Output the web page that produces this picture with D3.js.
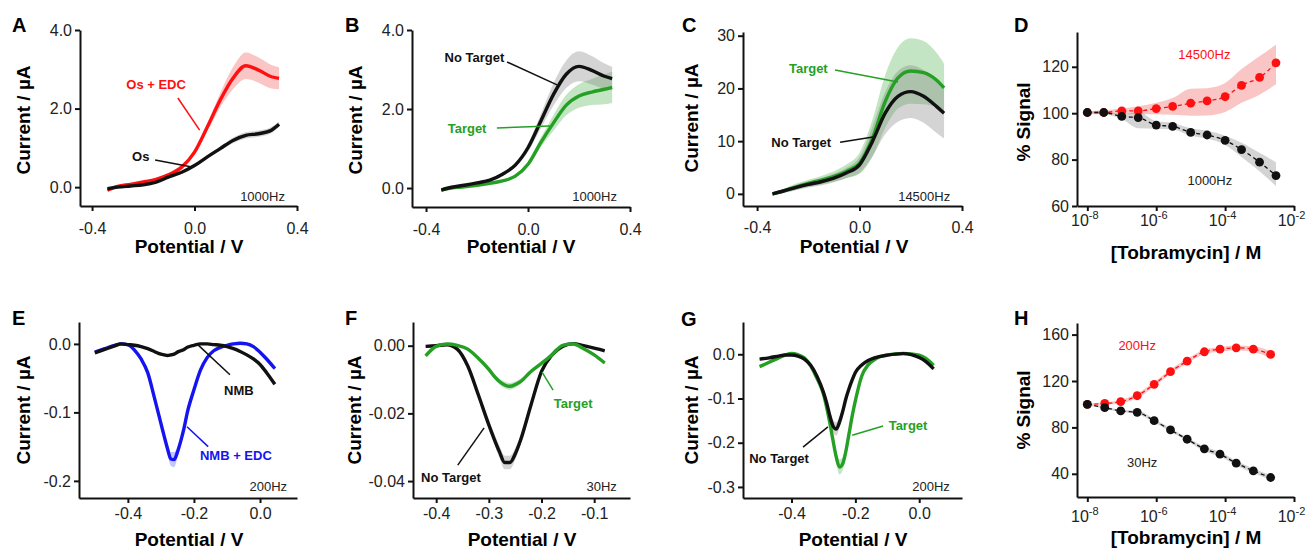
<!DOCTYPE html>
<html>
<head>
<meta charset="utf-8">
<script src="https://cdn.jsdelivr.net/npm/d3@7"></script>
<style>
  body { margin: 0; background: #fff; }
  text { font-family: "Liberation Sans", Arial, sans-serif; }
</style>
</head>
<body>
<svg id="fig" width="1306" height="550"></svg>
<script>
// ---- Panel A: Os vs Os + EDC, 1000 Hz ----
const scanV = [-0.34, -0.3, -0.25, -0.2, -0.15, -0.1, -0.05, 0.0, 0.05, 0.1, 0.15, 0.2, 0.25, 0.3, 0.33];
const aOsEdc   = [-0.08, 0.02, 0.07, 0.13, 0.2, 0.32, 0.51, 0.89, 1.53, 2.21, 2.77, 3.09, 2.98, 2.81, 2.77];
const aOsEdcSd = [0.02, 0.02, 0.02, 0.02, 0.03, 0.03, 0.04, 0.06, 0.1, 0.18, 0.28, 0.34, 0.32, 0.3, 0.28];
const aOs      = [-0.04, 0.0, 0.03, 0.06, 0.13, 0.26, 0.38, 0.55, 0.77, 0.98, 1.19, 1.32, 1.36, 1.45, 1.6];
const aOsSd    = [0.02, 0.02, 0.02, 0.02, 0.02, 0.02, 0.03, 0.03, 0.04, 0.05, 0.07, 0.08, 0.08, 0.08, 0.07];

// ---- Panel B: 1000 Hz, no target / target ----
const bNoTarget   = [-0.05, 0.02, 0.07, 0.13, 0.2, 0.35, 0.58, 1.02, 1.69, 2.37, 2.88, 3.08, 2.98, 2.83, 2.77];
const bNoTargetSd = [0.02, 0.02, 0.02, 0.02, 0.03, 0.04, 0.06, 0.1, 0.18, 0.28, 0.35, 0.38, 0.36, 0.32, 0.3];
const bTarget     = [-0.05, 0.0, 0.03, 0.07, 0.12, 0.18, 0.3, 0.6, 1.15, 1.65, 2.1, 2.33, 2.43, 2.5, 2.55];
const bTargetSd   = [0.02, 0.02, 0.02, 0.02, 0.02, 0.03, 0.04, 0.06, 0.12, 0.2, 0.26, 0.3, 0.33, 0.38, 0.4];

// ---- Panel C: 14500 Hz ----
const cNoTarget   = [0, 0.5, 1.2, 1.8, 2.3, 3.0, 4.0, 5.5, 9.9, 15.3, 18.5, 19.4, 18.5, 16.6, 15.3];
const cNoTargetSd = [0.3, 0.4, 0.5, 0.6, 0.7, 0.8, 1.0, 1.5, 2.8, 4.0, 4.8, 5.0, 5.0, 5.0, 4.8];
const cTarget     = [0, 0.5, 1.3, 2.0, 2.6, 3.3, 4.3, 5.8, 10.5, 17.5, 22, 23.3, 23, 21.6, 20.1];
const cTargetSd   = [0.3, 0.4, 0.6, 0.7, 0.8, 1.0, 1.3, 2.0, 3.5, 5.0, 5.8, 6.2, 6.0, 5.2, 4.6];

// ---- Panel D: titration, Os reporter ----
const dConc    = [1e-8, 3e-8, 1e-7, 3e-7, 1e-6, 3e-6, 1e-5, 3e-5, 1e-4, 3e-4, 1e-3, 3e-3];
const d14500   = [100.3, 100.3, 101, 101, 102, 102.9, 104.3, 105.3, 107.1, 112, 115.4, 121.7];
const d14500Hi = [100.8, 101.3, 102, 103, 104.5, 106.5, 110.5, 110.8, 113, 119, 124.5, 129.5];
const d14500Lo = [99.8, 99.5, 99.5, 99.5, 99.5, 99.3, 98.9, 99, 100.5, 104.5, 108, 112.5];
const d1000    = [100.3, 100.3, 98.6, 98.1, 94.9, 94.3, 91.7, 90.6, 88.3, 84.3, 78.9, 73.1];
const d1000Hi  = [100.6, 100.8, 99.5, 100.5, 96.5, 95.8, 93.5, 92.4, 90.3, 87.3, 82.9, 78.9];
const d1000Lo  = [100, 99.5, 97.5, 93.5, 93.3, 93, 90.3, 89.1, 86.3, 81.1, 75, 68.6];

// ---- Panel E: NMB vs NMB + EDC, 200 Hz ----
const eV       = [-0.5, -0.47, -0.44, -0.42, -0.4, -0.38, -0.36, -0.34, -0.32, -0.3, -0.29, -0.28, -0.27, -0.26, -0.25, -0.24, -0.23, -0.22, -0.2, -0.18, -0.16, -0.14, -0.12, -0.1, -0.08, -0.06, -0.04, -0.02, 0.0, 0.02, 0.045];
const eNmbEdc  = [-0.012, -0.007, -0.002, 0.0, -0.001, -0.009, -0.022, -0.042, -0.078, -0.116, -0.135, -0.153, -0.168, -0.169, -0.158, -0.142, -0.123, -0.1, -0.067, -0.038, -0.02, -0.01, -0.005, -0.002, 0.0, 0.001, 0.0, -0.004, -0.012, -0.022, -0.036];
const eNmbEdcSd = [0.002, 0.002, 0.002, 0.002, 0.002, 0.002, 0.002, 0.002, 0.003, 0.004, 0.005, 0.007, 0.01, 0.011, 0.008, 0.006, 0.005, 0.004, 0.004, 0.003, 0.002, 0.002, 0.002, 0.002, 0.002, 0.002, 0.002, 0.002, 0.002, 0.002, 0.002];
const eNmb     = [-0.013, -0.008, -0.003, 0.0, -0.001, -0.002, -0.004, -0.007, -0.011, -0.015, -0.016, -0.017, -0.016, -0.015, -0.012, -0.01, -0.008, -0.005, -0.002, 0.0, 0.0, -0.001, -0.002, -0.004, -0.007, -0.011, -0.016, -0.022, -0.03, -0.042, -0.059];
const eNmbSd   = [0.0015, 0.0015, 0.0015, 0.0015, 0.0015, 0.0015, 0.0015, 0.0015, 0.0015, 0.002, 0.002, 0.002, 0.002, 0.002, 0.002, 0.0015, 0.0015, 0.0015, 0.0015, 0.0015, 0.0015, 0.0015, 0.0015, 0.0015, 0.0015, 0.0015, 0.0015, 0.0015, 0.0015, 0.0015, 0.0015];

// ---- Panel F: 30 Hz ----
const fV          = [-0.42, -0.4, -0.38, -0.36, -0.34, -0.32, -0.3, -0.29, -0.28, -0.27, -0.26, -0.25, -0.24, -0.22, -0.2, -0.18, -0.16, -0.14, -0.12, -0.1, -0.08];
const fNoTarget   = [-0.0002, 0.0, 0.0003, -0.001, -0.006, -0.0145, -0.0234, -0.0275, -0.0313, -0.0345, -0.0345, -0.032, -0.028, -0.0175, -0.0076, -0.0027, -0.0002, 0.0006, 0.0, -0.0007, -0.0015];
const fNoTargetSd = [0.0003, 0.0003, 0.0003, 0.0004, 0.0006, 0.0009, 0.0012, 0.0015, 0.0018, 0.002, 0.002, 0.0018, 0.0015, 0.001, 0.0006, 0.0004, 0.0003, 0.0003, 0.0003, 0.0003, 0.0003];
const fTarget     = [-0.003, -0.0002, 0.0005, 0.0001, -0.001, -0.0037, -0.007, -0.009, -0.0106, -0.0116, -0.012, -0.0115, -0.0106, -0.0076, -0.0052, -0.0027, 0.0001, 0.0005, -0.0009, -0.0027, -0.0051];
const fTargetSd   = [0.0004, 0.0004, 0.0004, 0.0004, 0.0004, 0.0006, 0.0007, 0.0008, 0.0009, 0.001, 0.001, 0.0009, 0.0008, 0.0006, 0.0005, 0.0004, 0.0004, 0.0004, 0.0004, 0.0004, 0.0004];

// ---- Panel G: 200 Hz ----
const gV          = [-0.5, -0.47, -0.44, -0.42, -0.4, -0.38, -0.36, -0.34, -0.32, -0.3, -0.29, -0.28, -0.27, -0.26, -0.25, -0.24, -0.23, -0.22, -0.21, -0.2, -0.18, -0.16, -0.14, -0.1, -0.05, 0.0, 0.02, 0.045];
const gNoTarget   = [-0.011, -0.008, -0.004, -0.0015, -0.0015, -0.004, -0.011, -0.025, -0.05, -0.086, -0.11, -0.139, -0.162, -0.169, -0.154, -0.13, -0.101, -0.078, -0.058, -0.041, -0.024, -0.014, -0.008, -0.002, 0.0015, -0.0075, -0.016, -0.033];
const gNoTargetSd = [0.003, 0.003, 0.003, 0.003, 0.003, 0.003, 0.003, 0.003, 0.004, 0.006, 0.008, 0.011, 0.014, 0.015, 0.012, 0.009, 0.007, 0.005, 0.004, 0.003, 0.003, 0.003, 0.003, 0.003, 0.003, 0.003, 0.003, 0.003];
const gTarget     = [-0.028, -0.018, -0.008, -0.002, 0.002, -0.001, -0.008, -0.026, -0.055, -0.09, -0.12, -0.155, -0.195, -0.232, -0.255, -0.248, -0.22, -0.18, -0.14, -0.105, -0.049, -0.024, -0.012, -0.0015, 0.002, -0.002, -0.009, -0.025];
const gTargetSd   = [0.003, 0.003, 0.003, 0.003, 0.003, 0.003, 0.003, 0.003, 0.004, 0.005, 0.007, 0.009, 0.012, 0.015, 0.017, 0.015, 0.011, 0.008, 0.006, 0.003, 0.003, 0.003, 0.003, 0.003, 0.003, 0.003, 0.003, 0.003];

// ---- Panel H: titration, NMB reporter ----
const hConc  = [1e-8, 3.2e-8, 9.3e-8, 2.8e-7, 8.7e-7, 2.6e-6, 7.9e-6, 2.5e-5, 7.1e-5, 2.1e-4, 6.6e-4, 2.1e-3];
const h200   = [99.9, 100.7, 102.2, 107.3, 117.1, 128, 137.1, 145.2, 147.4, 148.6, 147.4, 142.9];
const h200Sd = [0.5, 1, 1.5, 2, 2, 2, 2, 2, 2, 2, 2.5, 3];
const h30    = [99.9, 97, 94.2, 93.0, 85.8, 77.8, 69.8, 61.5, 56.9, 49.2, 42.6, 36.8];
const h30Sd  = [0.5, 1, 1, 1.5, 1.5, 1.5, 1.5, 2, 2, 2, 2, 2];

const RED = "#ff1010", BLACK = "#111", GREEN = "#25a025", BLUE = "#1414f0";
const RED_BAND = "rgba(240,90,90,0.35)", GRAY_BAND = "rgba(120,120,120,0.32)";
const GREEN_BAND = "rgba(60,170,60,0.3)", BLUE_BAND = "rgba(90,90,255,0.35)";

const svg = d3.select("#fig");
// plain hyphen for negative numbers, as in the figure
const locale = d3.formatLocale({ decimal: ".", thousands: ",", grouping: [3], currency: ["", ""], minus: "-" });
const fmt1 = locale.format(".1f"), fmt2 = locale.format(".2f"), fmt0 = locale.format("d");

const panels = [
  { letter: "A", lx: 12, ly: 32,
    xDomain: [-0.447, 0.4], xRange: [80, 297], yDomain: [-0.48, 4.0], yRange: [206, 30],
    xTicks: [-0.4, 0, 0.4], xFmt: fmt1, yTicks: [0, 2, 4], yFmt: fmt1, xPad: 12,
    xTitle: "Potential / V", xTitleAt: [189, 253], yTitle: "Current / µA", yTitleAt: [30, 120],
    series: [
      { xs: scanV, ys: aOsEdc, sd: aOsEdcSd, color: RED, band: RED_BAND },
      { xs: scanV, ys: aOs, sd: aOsSd, color: BLACK, band: GRAY_BAND }
    ],
    notes: [
      { text: "Os + EDC", at: [-0.15, 2.5], color: RED, bold: true, line: [[-0.065, 2.27], [0.02, 1.45]] },
      { text: "Os", at: [-0.21, 0.66], color: BLACK, bold: true, line: [[-0.154, 0.69], [-0.01, 0.51]] },
      { text: "1000Hz", at: [0.353, -0.35], anchor: "end", color: "#222" }
    ] },
  { letter: "B", lx: 345, ly: 32,
    xDomain: [-0.455, 0.4], xRange: [412, 630], yDomain: [-0.48, 4.0], yRange: [207, 30],
    xTicks: [-0.4, 0, 0.4], xFmt: fmt1, yTicks: [0, 2, 4], yFmt: fmt1, xPad: 12,
    xTitle: "Potential / V", xTitleAt: [521, 253], yTitle: "Current / µA", yTitleAt: [362, 120],
    series: [
      { xs: scanV, ys: bTarget, sd: bTargetSd, color: GREEN, band: GREEN_BAND },
      { xs: scanV, ys: bNoTarget, sd: bNoTargetSd, color: BLACK, band: GRAY_BAND }
    ],
    notes: [
      { text: "No Target", at: [-0.21, 3.19], color: BLACK, bold: true, line: [[-0.082, 3.19], [0.114, 2.61]] },
      { text: "Target", at: [-0.239, 1.39], color: GREEN, bold: true, line: [[-0.122, 1.52], [0.086, 1.57]] },
      { text: "1000Hz", at: [0.349, -0.33], anchor: "end", color: "#222" }
    ] },
  { letter: "C", lx: 682, ly: 32,
    xDomain: [-0.455, 0.4], xRange: [743, 962], yDomain: [-2.3, 30.7], yRange: [206, 32],
    xTicks: [-0.4, 0, 0.4], xFmt: fmt1, yTicks: [0, 10, 20, 30], yFmt: fmt0, xPad: 11,
    xTitle: "Potential / V", xTitleAt: [854, 253], yTitle: "Current / µA", yTitleAt: [698, 118],
    series: [
      { xs: scanV, ys: cTarget, sd: cTargetSd, color: GREEN, band: GREEN_BAND },
      { xs: scanV, ys: cNoTarget, sd: cNoTargetSd, color: BLACK, band: GRAY_BAND }
    ],
    notes: [
      { text: "Target", at: [-0.2, 22.9], color: GREEN, bold: true, line: [[-0.096, 23.5], [0.15, 21.2]] },
      { text: "No Target", at: [-0.228, 8.9], color: BLACK, bold: true, line: [[-0.076, 9.8], [0.053, 10.8]] },
      { text: "14500Hz", at: [0.354, -1.35], anchor: "end", color: "#222" }
    ] },
  { letter: "D", lx: 1014, ly: 32, log: true,
    xDomain: [Math.pow(10, -8.3), 1e-2], xRange: [1077, 1294], yDomain: [60, 135], yRange: [206, 32],
    xTicks: [1e-8, 1e-6, 1e-4, 1e-2], yTicks: [60, 80, 100, 120], yFmt: fmt0, xPad: 4,
    xTitle: "[Tobramycin] / M", xTitleAt: [1186, 259], yTitle: "% Signal", yTitleAt: [1030, 122],
    series: [
      { xs: dConc, ys: d14500, hi: d14500Hi, lo: d14500Lo, color: RED, band: RED_BAND, dots: true },
      { xs: dConc, ys: d1000, hi: d1000Hi, lo: d1000Lo, color: BLACK, band: GRAY_BAND, dots: true }
    ],
    notes: [
      { text: "14500Hz", at: [2.5e-5, 123.4], color: RED },
      { text: "1000Hz", at: [3.6e-5, 69], color: "#222" }
    ] },
  { letter: "E", lx: 12, ly: 325,
    xDomain: [-0.548, 0.112], xRange: [79, 297], yDomain: [-0.225, 0.032], yRange: [498, 322],
    xTicks: [-0.4, -0.2, 0], xFmt: fmt1, yTicks: [-0.2, -0.1, 0], yFmt: fmt1, xPad: 5,
    xTitle: "Potential / V", xTitleAt: [189, 546], yTitle: "Current / µA", yTitleAt: [30, 410],
    series: [
      { xs: eV, ys: eNmbEdc, sd: eNmbEdcSd, color: BLUE, band: BLUE_BAND },
      { xs: eV, ys: eNmb, sd: eNmbSd, color: BLACK, band: GRAY_BAND }
    ],
    notes: [
      { text: "NMB", at: [-0.064, -0.075], color: BLACK, bold: true, line: [[-0.091, -0.045], [-0.191, 0.0]] },
      { text: "NMB + EDC", at: [-0.073, -0.17], color: BLUE, bold: true, line: [[-0.157, -0.15], [-0.221, -0.121]] },
      { text: "200Hz", at: [0.082, -0.215], anchor: "end", color: "#222" }
    ] },
  { letter: "F", lx: 345, ly: 325,
    xDomain: [-0.444, -0.032], xRange: [413, 630], yDomain: [-0.045, 0.007], yRange: [498, 322],
    xTicks: [-0.4, -0.3, -0.2, -0.1], xFmt: fmt1, yTicks: [-0.04, -0.02, 0], yFmt: fmt2, xPad: 5,
    xTitle: "Potential / V", xTitleAt: [522, 546], yTitle: "Current / µA", yTitleAt: [361, 410],
    series: [
      { xs: fV, ys: fNoTarget, sd: fNoTargetSd, color: BLACK, band: GRAY_BAND },
      { xs: fV, ys: fTarget, sd: fTargetSd, color: GREEN, band: GREEN_BAND }
    ],
    notes: [
      { text: "Target", at: [-0.14, -0.0184], color: GREEN, bold: true, line: [[-0.178, -0.0131], [-0.199, -0.0078]] },
      { text: "No Target", at: [-0.372, -0.0403], color: BLACK, bold: true, line: [[-0.359, -0.0353], [-0.309, -0.0243]] },
      { text: "30Hz", at: [-0.057, -0.0429], anchor: "end", color: "#222" }
    ] },
  { letter: "G", lx: 681, ly: 326,
    xDomain: [-0.552, 0.134], xRange: [743, 962], yDomain: [-0.325, 0.073], yRange: [498, 322],
    xTicks: [-0.4, -0.2, 0], xFmt: fmt1, yTicks: [-0.3, -0.2, -0.1, 0], yFmt: fmt1, xPad: 5,
    xTitle: "Potential / V", xTitleAt: [853, 546], yTitle: "Current / µA", yTitleAt: [698, 410],
    series: [
      { xs: gV, ys: gTarget, sd: gTargetSd, color: GREEN, band: GREEN_BAND },
      { xs: gV, ys: gNoTarget, sd: gNoTargetSd, color: BLACK, band: GRAY_BAND }
    ],
    notes: [
      { text: "Target", at: [-0.035, -0.171], color: GREEN, bold: true, line: [[-0.113, -0.162], [-0.21, -0.183]] },
      { text: "No Target", at: [-0.439, -0.246], color: BLACK, bold: true, line: [[-0.364, -0.21], [-0.286, -0.164]] },
      { text: "200Hz", at: [0.096, -0.309], anchor: "end", color: "#222" }
    ] },
  { letter: "H", lx: 1014, ly: 325, log: true,
    xDomain: [Math.pow(10, -8.3), 1e-2], xRange: [1077, 1294], yDomain: [20, 170], yRange: [497, 323],
    xTicks: [1e-8, 1e-6, 1e-4, 1e-2], yTicks: [40, 80, 120, 160], yFmt: fmt0, xPad: 9,
    xTitle: "[Tobramycin] / M", xTitleAt: [1186, 544], yTitle: "% Signal", yTitleAt: [1030, 410],
    series: [
      { xs: hConc, ys: h200, sd: h200Sd, color: RED, band: RED_BAND, dots: true },
      { xs: hConc, ys: h30, sd: h30Sd, color: BLACK, band: GRAY_BAND, dots: true }
    ],
    notes: [
      { text: "200Hz", at: [2.8e-7, 146.7], color: RED },
      { text: "30Hz", at: [3.9e-7, 45.9], color: "#222" }
    ] }
];

function styleAxis(sel) {
  sel.attr("font-size", null).attr("font-family", null);
  sel.select(".domain").attr("stroke", "#111").attr("stroke-width", 2);
  sel.selectAll(".tick line").attr("stroke", "#111").attr("stroke-width", 2);
  sel.selectAll(".tick text").attr("fill", "#222").style("font-size", "16px");
}

function drawPanel(p) {
  const g = svg.append("g");
  const x = (p.log ? d3.scaleLog() : d3.scaleLinear()).domain(p.xDomain).range(p.xRange);
  const y = d3.scaleLinear().domain(p.yDomain).range(p.yRange);
  const curve = d3.curveMonotoneX;

  const rowsOf = s => s.xs.map((v, i) => ({
    x: v, y: s.ys[i],
    lo: s.lo ? s.lo[i] : s.ys[i] - s.sd[i],
    hi: s.hi ? s.hi[i] : s.ys[i] + s.sd[i]
  }));

  // shaded spread first, lines on top
  p.series.forEach(s => {
    g.append("path").datum(rowsOf(s))
      .attr("fill", s.band)
      .attr("d", d3.area().x(d => x(d.x)).y0(d => y(d.lo)).y1(d => y(d.hi)).curve(curve));
  });

  p.series.forEach(s => {
    const rows = rowsOf(s);
    const line = d3.line().x(d => x(d.x)).y(d => y(d.y)).curve(curve);
    if (s.dots) {
      g.append("path").datum(rows)
        .attr("fill", "none").attr("stroke", s.color)
        .attr("stroke-width", 1.3).attr("stroke-dasharray", "4,3")
        .attr("d", line);
      g.selectAll(null).data(rows).join("circle")
        .attr("cx", d => x(d.x)).attr("cy", d => y(d.y))
        .attr("r", 4.4).attr("fill", s.color);
    } else {
      g.append("path").datum(rows)
        .attr("fill", "none").attr("stroke", s.color)
        .attr("stroke-width", 3.4).attr("stroke-linejoin", "round")
        .attr("d", line);
    }
  });

  // axes
  const xAxis = d3.axisBottom(x).tickValues(p.xTicks).tickSize(5).tickSizeOuter(0).tickPadding(p.xPad);
  xAxis.tickFormat(p.log ? () => "" : p.xFmt);
  const gx = g.append("g").attr("transform", `translate(0,${p.yRange[0]})`).call(xAxis);
  styleAxis(gx);
  if (p.log) {
    gx.selectAll(".tick text").each(function (d) {
      const t = d3.select(this).attr("dx", "-3");
      const e = Math.round(Math.log10(d));
      t.append("tspan").text("10");
      t.append("tspan").attr("dy", "-7").style("font-size", "11px").text("-" + Math.abs(e));
    });
  }
  const gy = g.append("g").attr("transform", `translate(${p.xRange[0]},0)`)
    .call(d3.axisLeft(y).tickValues(p.yTicks).tickFormat(p.yFmt).tickSize(5).tickSizeOuter(0).tickPadding(3));
  styleAxis(gy);

  // titles
  g.append("text").attr("x", p.xTitleAt[0]).attr("y", p.xTitleAt[1])
    .attr("text-anchor", "middle").attr("font-weight", "bold").attr("font-size", 19)
    .text(p.xTitle);
  g.append("text")
    .attr("transform", `translate(${p.yTitleAt[0]},${p.yTitleAt[1]}) rotate(-90)`)
    .attr("text-anchor", "middle").attr("font-weight", "bold").attr("font-size", 19)
    .text(p.yTitle);
  g.append("text").attr("x", p.lx).attr("y", p.ly)
    .attr("font-weight", "bold").attr("font-size", 20).text(p.letter);

  // annotations
  p.notes.forEach(n => {
    if (n.line) {
      g.append("line")
        .attr("x1", x(n.line[0][0])).attr("y1", y(n.line[0][1]))
        .attr("x2", x(n.line[1][0])).attr("y2", y(n.line[1][1]))
        .attr("stroke", n.color).attr("stroke-width", 1.5);
    }
    g.append("text").attr("x", x(n.at[0])).attr("y", y(n.at[1]))
      .attr("text-anchor", n.anchor || "middle")
      .attr("font-weight", n.bold ? "bold" : "normal")
      .attr("font-size", 13).attr("fill", n.color).text(n.text);
  });
}

panels.forEach(drawPanel);
</script>
</body>
</html>
